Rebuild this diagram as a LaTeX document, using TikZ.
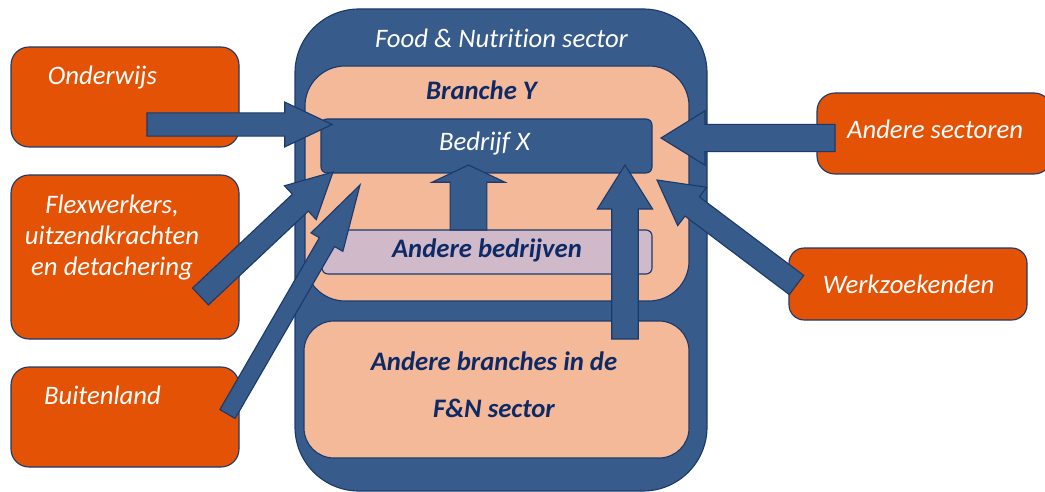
\documentclass[tikz,border=0pt]{standalone}
\usepackage{fontspec}
\setmainfont{Carlito}[Ligatures=NoCommon]
\usetikzlibrary{calc,fit}

\definecolor{fnorange}{HTML}{E35205}
\definecolor{fnblue}{HTML}{375B8B}
\definecolor{fnline}{HTML}{1B3A6B}
\definecolor{fnpeach}{HTML}{F4B999}
\definecolor{fnlav}{HTML}{D0B9C8}
\definecolor{fnnavy}{HTML}{0E2A66}

% block arrow: tail, tip, half shaft, half head, head length
\newcommand\fatarrow[5]{%
  \coordinate (hb) at ($(#2)!#5!(#1)$);
  \draw[fatarr] ($(#1)!#3!90:(#2)$) -- ($(hb)!#3!90:(#2)$) -- ($(hb)!#4!90:(#2)$) -- (#2)
    -- ($(hb)!#4!-90:(#2)$) -- ($(hb)!#3!-90:(#2)$) -- ($(#1)!#3!-90:(#2)$) -- cycle;}

\begin{document}
\begin{tikzpicture}[x=0.025cm, y=-0.025cm,
    font=\fontsize{19}{22}\selectfont\itshape,
    box/.style={draw=fnline, line width=0.8pt, inner sep=0pt},
    obox/.style={box, fill=fnorange, rounded corners=0.45cm},
    fatarr/.style={draw=fnline, line width=0.8pt, fill=fnblue, line join=miter},
    wtxt/.style={text=white, align=center, anchor=base, inner sep=0pt},
    ntxt/.style={text=fnnavy, align=center, anchor=base, inner sep=0pt, font=\fontsize{19}{22}\selectfont\itshape\bfseries},
  ]
  \useasboundingbox (0,0) rectangle (1045,492);

  % sector, branch and companies
  \node (sector) [box, fill=fnblue, rounded corners=1.6cm, fit={(295,9) (707,491)}] {};
  \node (branche) [box, fill=fnpeach, rounded corners=1cm, fit={(305,66) (689,301)}] {};
  \node (bedrijf) [box, fill=fnblue, rounded corners=0.15cm, fit={(321,119) (652,173)}] {};
  \node (bedrijven) [box, fill=fnlav, rounded corners=0.15cm, fit={(322,230) (652,274)}] {};
  \node (branches) [box, fill=fnpeach, rounded corners=0.75cm, fit={(304,321) (689,458)}] {};

  % sources outside the sector
  \node (onderwijs) [obox, fit={(11,47) (239,147)}] {};
  \node (flex) [obox, fit={(11,175) (239,339)}] {};
  \node (buitenland) [obox, fit={(11,367) (239,467)}] {};
  \node (sectoren) [obox, fit={(817,93) (1052,174)}] {};
  \node (werkzoek) [obox, rounded corners=0.38cm, fit={(789,248) (1027,320)}] {};

  % labels (multi-line ones sit on their last baseline)
  \node (sector-lbl) [wtxt] at (501.5,48) {Food \& Nutrition sector};
  \node (branche-lbl) [ntxt] at (481.5,100) {Branche Y};
  \node (bedrijf-lbl) [wtxt] at (484.5,151) {Bedrijf X};
  \node (bedrijven-lbl) [ntxt] at (487,257) {Andere bedrijven};
  \node (branches-lbl) [ntxt, font=\fontsize{19}{33}\selectfont\itshape\bfseries] at (494,417) {Andere branches in de\\F\&N sector};
  \node (onderwijs-lbl) [wtxt] at (102.5,85) {Onderwijs};
  \node (flex-lbl) [wtxt, font=\fontsize{19}{22}\selectfont\itshape] at (112,275) {Flexwerkers,\\uitzendkrachten\\en detachering};
  \node (buitenland-lbl) [wtxt] at (102.5,404) {Buitenland};
  \node (sectoren-lbl) [wtxt] at (935,139) {Andere sectoren};
  \node (werkzoek-lbl) [wtxt] at (908.5,293) {Werkzoekenden};

  % flows into the company
  \coordinate (ow-tail) at (147,124.5);
  \coordinate (ow-tip) at (332,124.5);
  \coordinate (as-tail) at (835,138);
  \coordinate (as-tip) at (661,138);
  \coordinate (ab-tail) at (468.5,230);
  \coordinate (ab-tip) at (468.5,165);
  \coordinate (br-tail) at (625,339);
  \coordinate (br-tip) at (625,165);
  \coordinate (wz-tail) at (796.5,285);
  \coordinate (wz-tip) at (657,180);
  \coordinate (fx-tail) at (200.5,296.5);
  \coordinate (fx-tip) at (333,172);
  \coordinate (bl-tail) at (227.5,414);
  \coordinate (bl-tip) at (360,185);

  \fatarrow{ow-tail}{ow-tip}{0.29cm}{0.56cm}{1.18cm}
  \fatarrow{as-tail}{as-tip}{0.34cm}{0.68cm}{1.1cm}
  \fatarrow{ab-tail}{ab-tip}{0.46cm}{0.91cm}{0.43cm}
  \fatarrow{br-tail}{br-tip}{0.33cm}{0.69cm}{1.1cm}
  \fatarrow{wz-tail}{wz-tip}{0.3cm}{0.6cm}{1.1cm}
  \fatarrow{fx-tail}{fx-tip}{0.29cm}{0.58cm}{1.12cm}
  \fatarrow{bl-tail}{bl-tip}{0.22cm}{0.46cm}{1.65cm}
\end{tikzpicture}
\end{document}
